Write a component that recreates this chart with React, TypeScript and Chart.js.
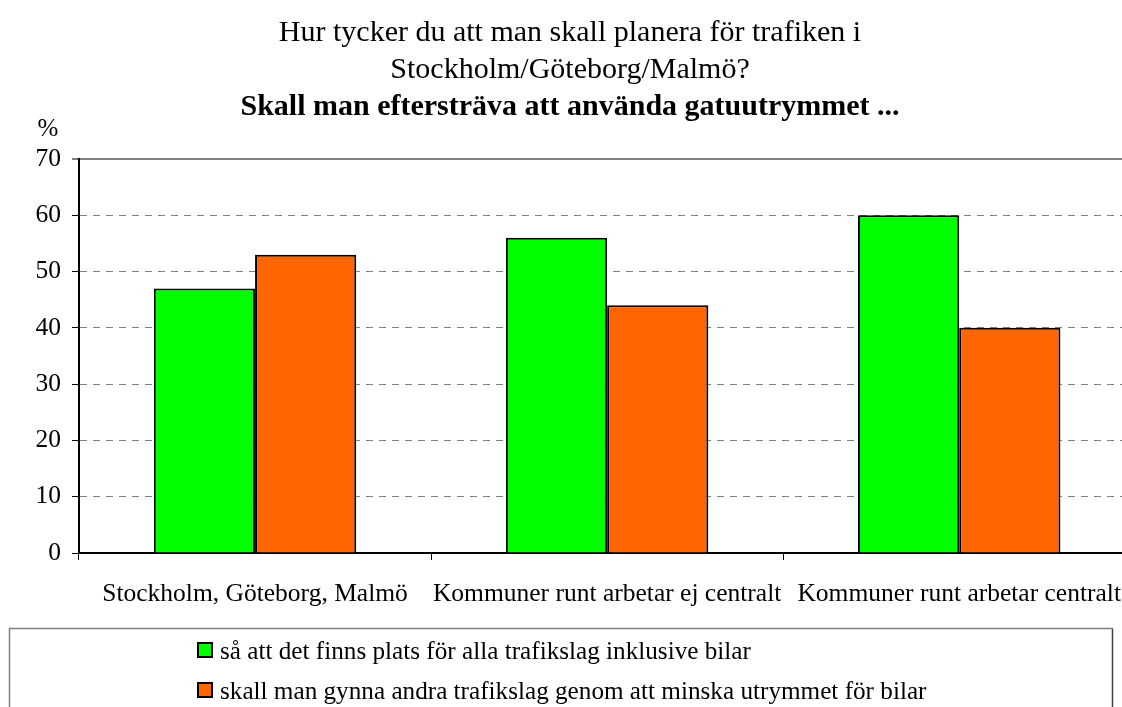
import React, { useEffect, useRef } from "react";
import { Chart, registerables } from "chart.js";

Chart.register(...registerables);

const titleLines = ["Hur tycker du att man skall planera för trafiken i", "Stockholm/Göteborg/Malmö?"];
const subtitleText = "Skall man eftersträva att använda gatuutrymmet ...";
const categories = ["Stockholm, Göteborg, Malmö", "Kommuner runt arbetar ej centralt", "Kommuner runt arbetar centralt"];
const seriesLabels = [
  "så att det finns plats för alla trafikslag inklusive bilar",
  "skall man gynna andra trafikslag genom att minska utrymmet för bilar",
];
const seriesA = [47, 56, 60];
const seriesB = [53, 44, 40];
const seriesColors = ["#00FF00", "#FF6600"];
const yUnit = "%";

const FONT = "'Liberation Serif', 'Times New Roman', serif";

const extrasPlugin = {
  id: "extras",
  afterDraw(chart: any) {
    const { ctx, chartArea } = chart;
    ctx.save();
    // unit label
    ctx.font = `25px ${FONT}`;
    ctx.fillStyle = "#000";
    ctx.textAlign = "center";
    ctx.textBaseline = "middle";
    ctx.fillText(yUnit, chartArea.left - 31, chartArea.top - 30);

    // legend box
    const bx = 9.5, by = 628.5, bw = 1103, bh = 90;
    ctx.lineWidth = 1.5;
    ctx.strokeStyle = "#808080";
    ctx.beginPath();
    ctx.moveTo(bx, by + bh);
    ctx.lineTo(bx, by);
    ctx.lineTo(bx + bw, by);
    ctx.stroke();
    ctx.strokeStyle = "#404040";
    ctx.beginPath();
    ctx.moveTo(bx + bw, by);
    ctx.lineTo(bx + bw, by + bh);
    ctx.stroke();

    const items = chart.data.datasets;
    ctx.textAlign = "left";
    ctx.textBaseline = "middle";
    ctx.font = `25.2px ${FONT}`;
    items.forEach((ds: any, i: number) => {
      const cy = 650 + i * 40;
      ctx.fillStyle = ds.backgroundColor;
      ctx.fillRect(198, cy - 7, 14, 14);
      ctx.lineWidth = 2;
      ctx.strokeStyle = "#000";
      ctx.strokeRect(198, cy - 7, 14, 14);
      ctx.fillStyle = "#000";
      ctx.fillText(ds.label, 220, cy + 2);
    });
    ctx.restore();
  },
};

export default function App() {
  const ref = useRef<HTMLCanvasElement>(null);
  useEffect(() => {
    document.documentElement.style.overflow = "hidden";
    document.body.style.overflow = "hidden";
    const chart = new Chart(ref.current!, {
      type: "bar",
      data: {
        labels: categories,
        datasets: [
          {
            label: seriesLabels[0],
            data: seriesA,
            backgroundColor: seriesColors[0],
            borderColor: "#000",
            borderWidth: 2,
            barPercentage: 1,
            categoryPercentage: 0.575,
          },
          {
            label: seriesLabels[1],
            data: seriesB,
            backgroundColor: seriesColors[1],
            borderColor: "#000",
            borderWidth: 2,
            barPercentage: 1,
            categoryPercentage: 0.575,
          },
        ],
      },
      options: {
        animation: false,
        responsive: false,
        layout: { padding: { left: 0, right: 0, top: 0, bottom: 107 } },
        plugins: {
          legend: { display: false },
          tooltip: { enabled: false },
          title: {
            display: true,
            text: titleLines,
            color: "#000",
            font: { family: FONT, size: 30, weight: "normal", lineHeight: 1.233 },
            padding: { top: 15, bottom: 0 },
          },
          subtitle: {
            display: true,
            text: subtitleText,
            color: "#000",
            font: { family: FONT, size: 30, weight: "bold", lineHeight: 1.233 },
            padding: { top: 0, bottom: 33 },
          },
        },
        scales: {
          x: {
            grid: {
              offset: true,
              drawOnChartArea: false,
              drawTicks: true,
              tickLength: 7,
              tickColor: "#000",
              tickWidth: 1,
            },
            border: { display: true, color: "#000", width: 2 },
            ticks: {
              color: "#000",
              font: { family: FONT, size: 25.5 },
              padding: 19,
              maxRotation: 0,
              autoSkip: false,
            },
            afterFit: (s: any) => {
              s.height = 60;
            },
          },
          y: {
            min: 0,
            max: 70,
            ticks: {
              stepSize: 10,
              color: "#000",
              font: { family: FONT, size: 25.5 },
              padding: 11,
            },
            grid: {
              color: (c: any) => (c.tick && c.tick.value === 0 ? "rgba(0,0,0,0)" : "#808080"),
              lineWidth: (c: any) => (c.tick && c.tick.value === 70 ? 2 : 1),
              drawTicks: true,
              tickLength: 7,
              tickColor: "#000",
              tickWidth: 1,
            },
            border: {
              display: true,
              color: "#000",
              width: 2,
              dash: (c: any) => (c.tick && c.tick.value === 70 ? [] : [7, 6]),
            },
            afterFit: (s: any) => {
              s.width = 79;
            },
          },
        },
      },
      plugins: [extrasPlugin],
    });
    return () => chart.destroy();
  }, []);
  return (
    <div style={{ position: "absolute", left: 0, top: 0 }}>
      <canvas ref={ref} width={1140} height={720} style={{ display: "block" }} />
    </div>
  );
}
